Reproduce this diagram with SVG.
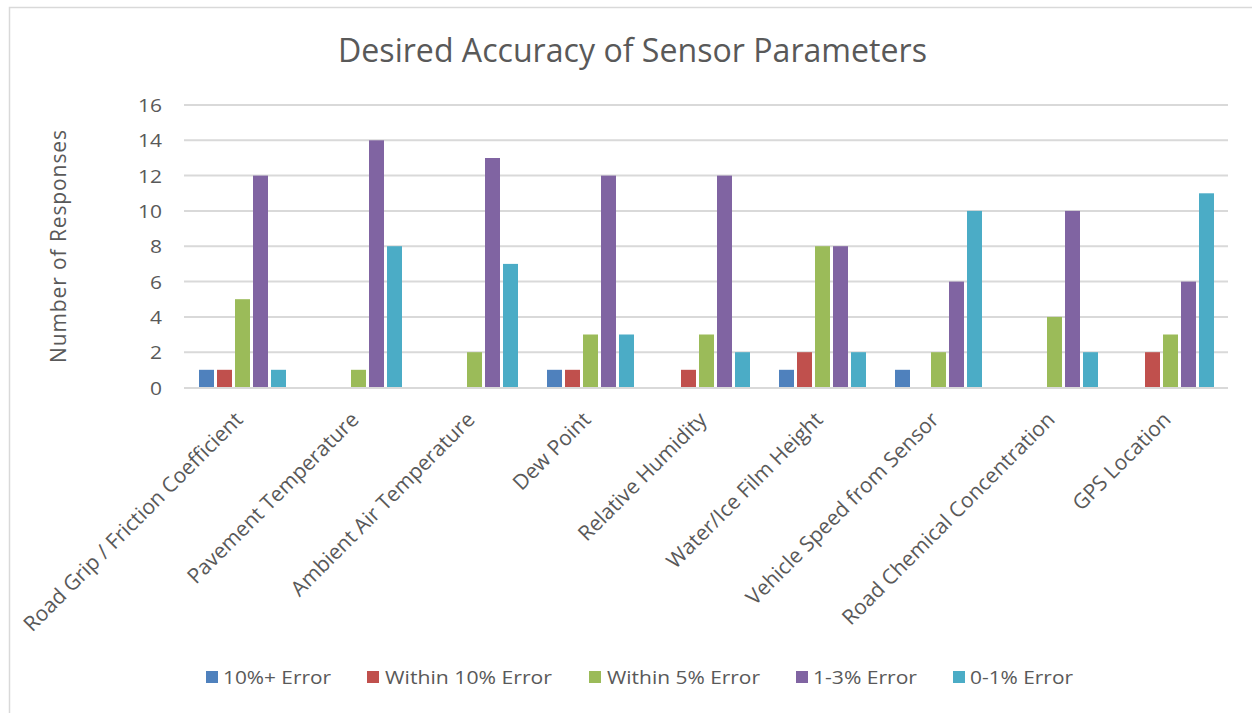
<svg xmlns="http://www.w3.org/2000/svg" width="1252" height="713" viewBox="0 0 1252 713">
<style>
text{font-family:"Open Sans","Liberation Sans",sans-serif;fill:#595959}
.grid{stroke:#d9d9d9;stroke-width:2}
.tick{font-size:19px;text-anchor:end}
.cat{font-size:21px;text-anchor:end}
.leg{font-size:19px}
.s0{fill:#4f81bd}.s1{fill:#c0504d}.s2{fill:#9bbb59}.s3{fill:#8064a2}.s4{fill:#4bacc6}
</style>
<rect x="0" y="0" width="1252" height="713" fill="#ffffff"/>
<rect id="frame" x="9.5" y="7.5" width="1260" height="720" fill="#ffffff" stroke="#d9d9d9" stroke-width="1.5"/>
<text id="title" x="338" y="62" font-size="32" textLength="589" lengthAdjust="spacingAndGlyphs">Desired Accuracy of Sensor Parameters</text>
<g id="gridlines">
<line class="grid" x1="184" y1="105" x2="1228" y2="105"/>
<line class="grid" x1="184" y1="140.3" x2="1228" y2="140.3"/>
<line class="grid" x1="184" y1="175.6" x2="1228" y2="175.6"/>
<line class="grid" x1="184" y1="210.9" x2="1228" y2="210.9"/>
<line class="grid" x1="184" y1="246.2" x2="1228" y2="246.2"/>
<line class="grid" x1="184" y1="281.6" x2="1228" y2="281.6"/>
<line class="grid" x1="184" y1="316.9" x2="1228" y2="316.9"/>
<line class="grid" x1="184" y1="352.2" x2="1228" y2="352.2"/>
</g>
<g id="yticks">
<text class="tick" x="162" y="112" textLength="24" lengthAdjust="spacingAndGlyphs">16</text>
<text class="tick" x="162" y="147.3" textLength="24" lengthAdjust="spacingAndGlyphs">14</text>
<text class="tick" x="162" y="182.6" textLength="24" lengthAdjust="spacingAndGlyphs">12</text>
<text class="tick" x="162" y="217.9" textLength="24" lengthAdjust="spacingAndGlyphs">10</text>
<text class="tick" x="162" y="253.2" textLength="12" lengthAdjust="spacingAndGlyphs">8</text>
<text class="tick" x="162" y="288.6" textLength="12" lengthAdjust="spacingAndGlyphs">6</text>
<text class="tick" x="162" y="323.9" textLength="12" lengthAdjust="spacingAndGlyphs">4</text>
<text class="tick" x="162" y="359.2" textLength="12" lengthAdjust="spacingAndGlyphs">2</text>
<text class="tick" x="162" y="394.5" textLength="12" lengthAdjust="spacingAndGlyphs">0</text>
</g>
<text id="ytitle" transform="translate(66,246.5) rotate(-90)" font-size="21" text-anchor="middle" textLength="233" lengthAdjust="spacing">Number of Responses</text>
<g id="bars">
<g id="cat1">
<rect class="s0" x="199" y="369.8" width="15" height="17.7"/>
<rect class="s1" x="217" y="369.8" width="15" height="17.7"/>
<rect class="s2" x="235" y="299.2" width="15" height="88.3"/>
<rect class="s3" x="253" y="175.6" width="15" height="211.9"/>
<rect class="s4" x="271" y="369.8" width="15" height="17.7"/>
</g>
<g id="cat2">
<rect class="s2" x="351" y="369.8" width="15" height="17.7"/>
<rect class="s3" x="369" y="140.3" width="15" height="247.2"/>
<rect class="s4" x="387" y="246.2" width="15" height="141.3"/>
</g>
<g id="cat3">
<rect class="s2" x="467" y="352.2" width="15" height="35.3"/>
<rect class="s3" x="485" y="158" width="15" height="229.5"/>
<rect class="s4" x="503" y="263.9" width="15" height="123.6"/>
</g>
<g id="cat4">
<rect class="s0" x="547" y="369.8" width="15" height="17.7"/>
<rect class="s1" x="565" y="369.8" width="15" height="17.7"/>
<rect class="s2" x="583" y="334.5" width="15" height="53"/>
<rect class="s3" x="601" y="175.6" width="15" height="211.9"/>
<rect class="s4" x="619" y="334.5" width="15" height="53"/>
</g>
<g id="cat5">
<rect class="s1" x="681" y="369.8" width="15" height="17.7"/>
<rect class="s2" x="699" y="334.5" width="15" height="53"/>
<rect class="s3" x="717" y="175.6" width="15" height="211.9"/>
<rect class="s4" x="735" y="352.2" width="15" height="35.3"/>
</g>
<g id="cat6">
<rect class="s0" x="779" y="369.8" width="15" height="17.7"/>
<rect class="s1" x="797" y="352.2" width="15" height="35.3"/>
<rect class="s2" x="815" y="246.2" width="15" height="141.3"/>
<rect class="s3" x="833" y="246.2" width="15" height="141.3"/>
<rect class="s4" x="851" y="352.2" width="15" height="35.3"/>
</g>
<g id="cat7">
<rect class="s0" x="895" y="369.8" width="15" height="17.7"/>
<rect class="s2" x="931" y="352.2" width="15" height="35.3"/>
<rect class="s3" x="949" y="281.6" width="15" height="105.9"/>
<rect class="s4" x="967" y="210.9" width="15" height="176.6"/>
</g>
<g id="cat8">
<rect class="s2" x="1047" y="316.9" width="15" height="70.6"/>
<rect class="s3" x="1065" y="210.9" width="15" height="176.6"/>
<rect class="s4" x="1083" y="352.2" width="15" height="35.3"/>
</g>
<g id="cat9">
<rect class="s1" x="1145" y="352.2" width="15" height="35.3"/>
<rect class="s2" x="1163" y="334.5" width="15" height="53"/>
<rect class="s3" x="1181" y="281.6" width="15" height="105.9"/>
<rect class="s4" x="1199" y="193.3" width="15" height="194.2"/>
</g>
</g>
<line id="xaxis" x1="184" y1="388" x2="1228" y2="388" stroke="#d9d9d9" stroke-width="2"/>
<g id="xlabels">
<text class="cat" transform="translate(244,421) rotate(-45)">Road Grip / Friction Coefficient</text>
<text class="cat" transform="translate(360,421) rotate(-45)">Pavement Temperature</text>
<text class="cat" transform="translate(476,421) rotate(-45)">Ambient Air Temperature</text>
<text class="cat" transform="translate(592,421) rotate(-45)">Dew Point</text>
<text class="cat" transform="translate(708,421) rotate(-45)">Relative Humidity</text>
<text class="cat" transform="translate(824,421) rotate(-45)">Water/Ice Film Height</text>
<text class="cat" transform="translate(940,421) rotate(-45)">Vehicle Speed from Sensor</text>
<text class="cat" transform="translate(1056,421) rotate(-45)">Road Chemical Concentration</text>
<text class="cat" transform="translate(1172,421) rotate(-45)">GPS Location</text>
</g>
<g id="legend">
<rect class="s0" x="206" y="671" width="12" height="12"/>
<text class="leg" x="223" y="683.5" textLength="108" lengthAdjust="spacingAndGlyphs">10%+ Error</text>
<rect class="s1" x="367" y="671" width="12" height="12"/>
<text class="leg" x="385" y="683.5" textLength="167" lengthAdjust="spacingAndGlyphs">Within 10% Error</text>
<rect class="s2" x="589" y="671" width="12" height="12"/>
<text class="leg" x="607" y="683.5" textLength="153" lengthAdjust="spacingAndGlyphs">Within 5% Error</text>
<rect class="s3" x="796" y="671" width="12" height="12"/>
<text class="leg" x="813" y="683.5" textLength="104" lengthAdjust="spacingAndGlyphs">1-3% Error</text>
<rect class="s4" x="953" y="671" width="12" height="12"/>
<text class="leg" x="970" y="683.5" textLength="103" lengthAdjust="spacingAndGlyphs">0-1% Error</text>
</g>
</svg>
